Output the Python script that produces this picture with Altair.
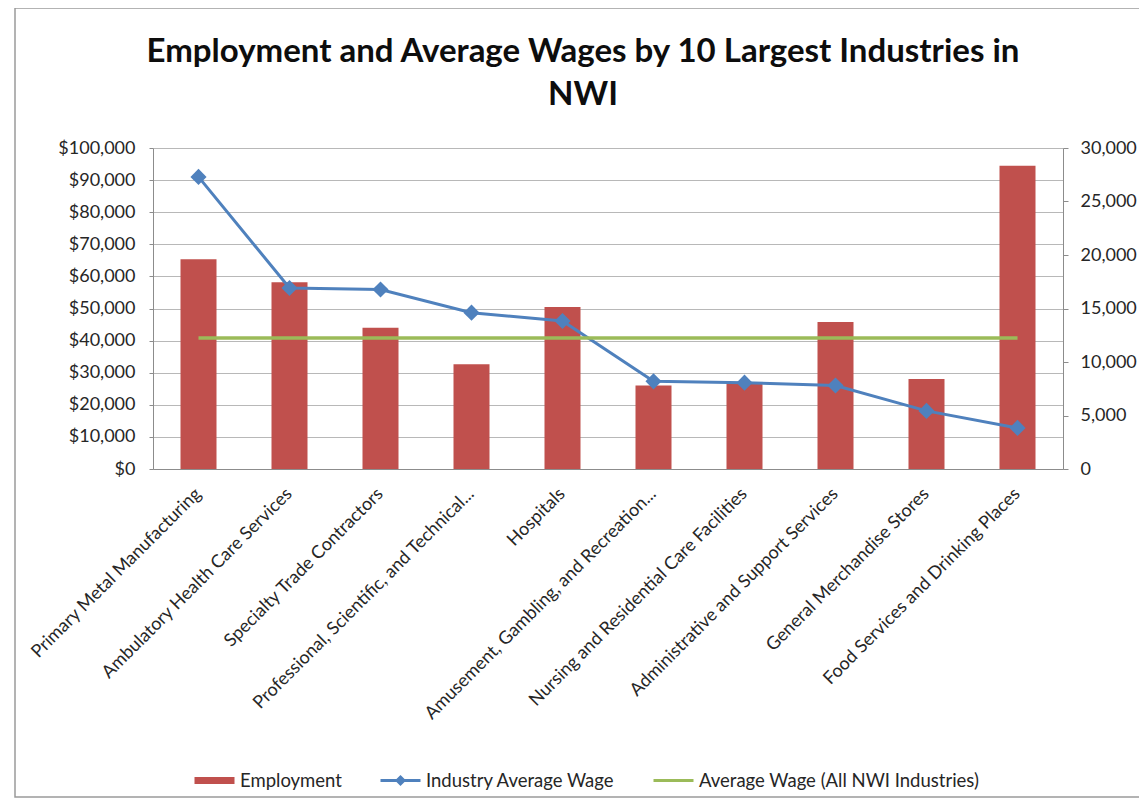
import altair as alt
import pandas as pd

industries = [
    "Primary Metal Manufacturing",
    "Ambulatory Health Care Services",
    "Specialty Trade Contractors",
    "Professional, Scientific, and Technical...",
    "Hospitals",
    "Amusement, Gambling, and Recreation...",
    "Nursing and Residential Care Facilities",
    "Administrative and Support Services",
    "General Merchandise Stores",
    "Food Services and Drinking Places",
]
employment = [19600, 17450, 13200, 9800, 15150, 7800, 8100, 13750, 8400, 28350]
industry_wage = [91000, 56400, 55900, 48700, 46100, 27300, 26900, 26000, 18100, 12800]
all_industries_wage = 40800

series_names = ["Employment", "Industry Average Wage", "Average Wage (All NWI Industries)"]
series_colors = ["#C0504D", "#4F81BD", "#9BBB59"]
legend_symbols = [
    "M-1,-0.1H1M-1,-0.03H1M-1,0.03H1M-1,0.1H1",
    "M-1,0H1M0,-0.17L0.17,0L0,0.17L-0.17,0Z",
    "M-1,0H1",
]

wage_ticks = list(range(0, 100001, 10000))
emp_ticks = list(range(0, 30001, 5000))

df = pd.DataFrame({
    "industry": industries,
    "employment": employment,
    "wage": industry_wage,
    "all_wage": [all_industries_wage] * len(industries),
})
legend_df = pd.DataFrame({"series": series_names})

FONT = "Lato"
TEXT = "#262626"
AXIS_GRAY = "#8C8C8C"
FS = 18

x_enc = alt.X(
    "industry:N",
    sort=industries,
    title=None,
    scale=alt.Scale(paddingInner=0, paddingOuter=0),
    axis=alt.Axis(
        labelAngle=-45,
        labelAlign="right",
        labelBaseline="middle",
        labelPadding=22,
        labelFont=FONT,
        labelFontSize=FS,
        labelColor=TEXT,
        labelLimit=400,
        ticks=False,
        domainColor=AXIS_GRAY,
        grid=False,
    ),
)

emp_axis = alt.Axis(
    orient="right",
    values=emp_ticks,
    labelExpr="format(datum.value, ',')",
    grid=False,
    labelFont=FONT,
    labelFontSize=FS,
    labelColor=TEXT,
    labelPadding=12,
    tickSize=5,
    tickColor=AXIS_GRAY,
    domainColor=AXIS_GRAY,
)

wage_axis = alt.Axis(
    orient="left",
    values=wage_ticks,
    labelExpr="'$' + format(datum.value, ',')",
    grid=True,
    gridColor="#B8B8B8",
    gridWidth=1,
    labelFont=FONT,
    labelFontSize=FS,
    labelColor=TEXT,
    labelPadding=14,
    tickSize=4,
    tickColor=AXIS_GRAY,
    domainColor=AXIS_GRAY,
)
wage_scale = alt.Scale(domain=[0, 100000], nice=False)

base = alt.Chart(df)

bars = base.mark_bar(size=36, color=series_colors[0]).encode(
    x=x_enc,
    y=alt.Y("employment:Q", title=None, scale=alt.Scale(domain=[0, 30000], nice=False), axis=emp_axis),
)

line = base.mark_line(strokeWidth=3, color=series_colors[1]).encode(
    x=x_enc, y=alt.Y("wage:Q", title=None, scale=wage_scale, axis=wage_axis)
)
points = base.mark_point(
    shape="diamond", filled=True, size=260, opacity=1, color=series_colors[1]
).encode(x=x_enc, y=alt.Y("wage:Q", title=None, scale=wage_scale, axis=wage_axis))

avg = base.mark_line(strokeWidth=3.5, color=series_colors[2]).encode(
    x=x_enc,
    y=alt.Y("all_wage:Q", title=None, scale=wage_scale, axis=wage_axis),
)

legend_layer = alt.Chart(legend_df).mark_point(filled=False, opacity=0, strokeWidth=3).encode(
    color=alt.Color(
        "series:N",
        sort=series_names,
        scale=alt.Scale(domain=series_names, range=series_colors),
        legend=alt.Legend(
            title=None,
            orient="none",
            direction="horizontal",
            legendX=40,
            legendY=611,
            symbolSize=1600,
            symbolStrokeWidth=3,
            symbolOpacity=1,
            labelFont=FONT,
            labelFontSize=18.5,
            labelColor=TEXT,
            labelLimit=400,
            labelOffset=4,
            columnPadding=32,
        ),
    ),
    shape=alt.Shape(
        "series:N",
        sort=series_names,
        scale=alt.Scale(domain=series_names, range=legend_symbols),
        legend=alt.Legend(title=None),
    ),
)

frame = alt.Chart(pd.DataFrame({"frame": [0]})).mark_rect(
    filled=False, stroke="#9A9A9A", strokeWidth=1.5
).encode(
    x=alt.value(-138), x2=alt.value(1000), y=alt.value(-140), y2=alt.value(649)
)

wage_layers = alt.layer(line, points, avg, legend_layer, frame)

chart = (
    alt.layer(bars, wage_layers)
    .resolve_scale(y="independent")
    .properties(
        width=910,
        height=321,
        autosize=alt.AutoSizeParams(type="none"),
        padding={"left": 145, "top": 140, "right": 76, "bottom": 330},
        title=alt.Title(
            text=["Employment and Average Wages by 10 Largest Industries in", "NWI"],
            font=FONT,
            fontSize=33,
            fontWeight="bold",
            color="#0D0D0D",
            anchor="middle",
            frame="group",
            baseline="bottom",
            dx=-25,
            lineHeight=43,
            offset=-138,
        ),
    )
    .configure_view(stroke=None)
)

chart.save("out.html", embed_options={"renderer": "svg", "actions": False})
